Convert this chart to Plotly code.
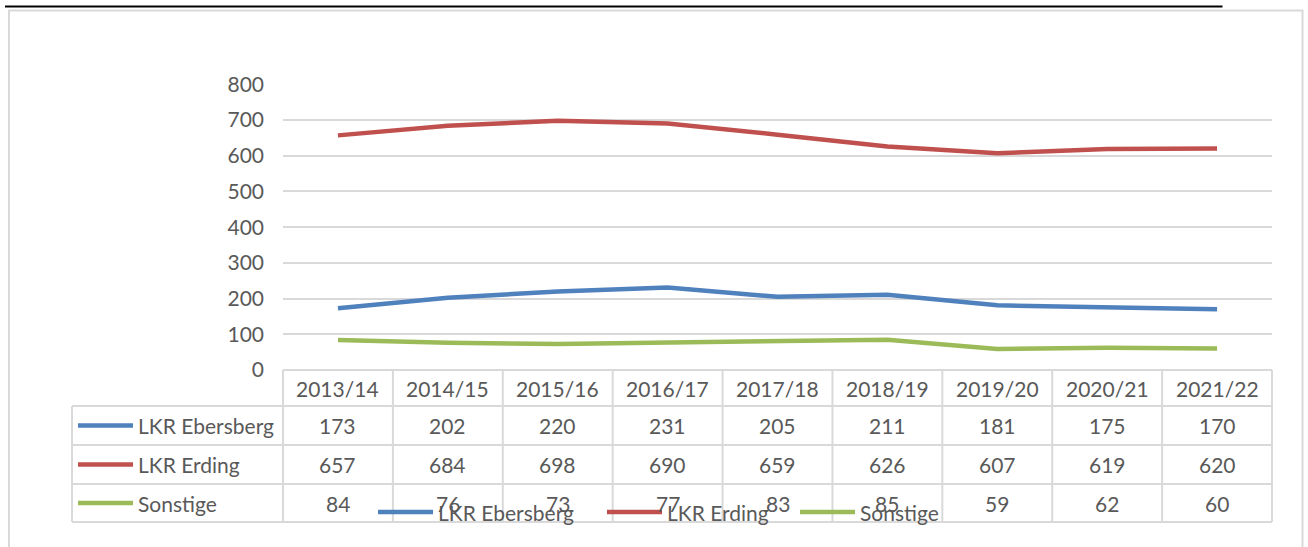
import plotly.graph_objects as go

# ---- data ----
categories = ["2013/14", "2014/15", "2015/16", "2016/17", "2017/18",
              "2018/19", "2019/20", "2020/21", "2021/22"]
series_names = ["LKR Ebersberg", "LKR Erding", "Sonstige"]
ebersberg = [173, 202, 220, 231, 205, 211, 181, 175, 170]
erding = [657, 684, 698, 690, 659, 626, 607, 619, 620]
sonstige = [84, 76, 73, 77, 83, 85, 59, 62, 60]
y_ticks = [0, 100, 200, 300, 400, 500, 600, 700, 800]

series_values = [ebersberg, erding, sonstige]
colors = ["#4F81BD", "#C0504D", "#9BBB59"]

# ---- layout geometry (pixels, page coordinates) ----
W, H = 1308, 547
OFF = 0                      # body margin is removed by post_script
PL, PR = 283, 1272          # plot area left/right
PT, PB = 84.3, 370          # plot area top (800) / bottom (0)
ROW_LINES = [406, 445, 484, 522]
TABLE_LEFT = 72
FONT = "Lato"
TXT = "#595959"
GRID = "#d9d9d9"
FS = 21


def px(x):
    return (x - OFF) / W


def py(y):
    return 1 - (y - OFF) / H


fig = go.Figure()
for name, vals, col in zip(series_names, series_values, colors):
    fig.add_trace(go.Scatter(x=categories, y=vals, name=name, mode="lines",
                             line=dict(color=col, width=4.5),
                             hoverinfo="x+y+name"))

shapes = []
annotations = []

# top black rule and chart border
shapes.append(dict(type="line", xref="paper", yref="paper",
                   x0=px(5), x1=px(1222.5), y0=py(6.5), y1=py(6.5),
                   line=dict(color="black", width=2)))
shapes.append(dict(type="rect", xref="paper", yref="paper",
                   x0=px(9), x1=px(1302.5), y0=py(10.5), y1=py(600),
                   line=dict(color=GRID, width=2)))

# data table grid
ncat = len(categories)
cw = (PR - PL) / ncat
shapes.append(dict(type="line", xref="paper", yref="paper",
                   x0=px(PL), x1=px(PR), y0=py(PB), y1=py(PB),
                   line=dict(color=GRID, width=2)))
for yl in ROW_LINES:
    shapes.append(dict(type="line", xref="paper", yref="paper",
                       x0=px(TABLE_LEFT), x1=px(PR), y0=py(yl), y1=py(yl),
                       line=dict(color=GRID, width=2)))
shapes.append(dict(type="line", xref="paper", yref="paper",
                   x0=px(TABLE_LEFT), x1=px(TABLE_LEFT),
                   y0=py(ROW_LINES[0]), y1=py(ROW_LINES[-1]),
                   line=dict(color=GRID, width=2)))
for k in range(ncat + 1):
    xv = PL + k * cw
    shapes.append(dict(type="line", xref="paper", yref="paper",
                       x0=px(xv), x1=px(xv), y0=py(PB), y1=py(ROW_LINES[-1]),
                       line=dict(color=GRID, width=2)))

# header labels
for c in categories:
    annotations.append(dict(x=c, xref="x", y=py((PB + ROW_LINES[0]) / 2),
                            yref="paper", text=c, showarrow=False,
                            xanchor="center", yanchor="middle",
                            font=dict(family=FONT, size=FS, color=TXT)))

# rows
for r, (name, vals, col) in enumerate(zip(series_names, series_values, colors)):
    yc = (ROW_LINES[r] + ROW_LINES[r + 1]) / 2
    shapes.append(dict(type="line", xref="paper", yref="paper",
                       x0=px(78), x1=px(133), y0=py(yc), y1=py(yc),
                       line=dict(color=col, width=4.5)))
    annotations.append(dict(x=px(136), xref="paper", y=py(yc), yref="paper",
                            text=name, showarrow=False, xanchor="left",
                            yanchor="middle",
                            font=dict(family=FONT, size=FS, color=TXT)))
    for c, v in zip(categories, vals):
        annotations.append(dict(x=c, xref="x", y=py(yc), yref="paper",
                                text=str(v), showarrow=False,
                                xanchor="center", yanchor="middle",
                                font=dict(family=FONT, size=FS, color=TXT)))

# bottom legend (overlapping the table, as in the original)
LEG_Y = 512
leg_starts = [378, 607, 800]
for name, col, x0 in zip(series_names, colors, leg_starts):
    shapes.append(dict(type="line", xref="paper", yref="paper",
                       x0=px(x0), x1=px(x0 + 55), y0=py(LEG_Y), y1=py(LEG_Y),
                       line=dict(color=col, width=4.5)))
    annotations.append(dict(x=px(x0 + 58), xref="paper", y=py(LEG_Y),
                            yref="paper", text=name, showarrow=False,
                            xanchor="left", yanchor="middle",
                            font=dict(family=FONT, size=FS, color=TXT)))

fig.update_layout(
    width=W, height=H,
    margin=dict(l=0, r=0, t=0, b=0, pad=0, autoexpand=False),
    paper_bgcolor="white", plot_bgcolor="white",
    showlegend=False,
    shapes=shapes,
    annotations=annotations,
    font=dict(family=FONT, size=FS, color=TXT),
    xaxis=dict(domain=[px(PL), px(PR)], range=[-0.5, ncat - 0.5],
               type="category", showticklabels=False, showgrid=False,
               zeroline=False, showline=False, fixedrange=True,
               automargin=False),
    yaxis=dict(domain=[py(PB), py(PT)], range=[0, 800],
               tickvals=y_ticks, ticktext=[str(t) for t in y_ticks],
               showgrid=True, gridcolor=GRID, gridwidth=2,
               zeroline=False, showline=False,
               ticks="", ticklabelstandoff=18, automargin=False,
               tickfont=dict(family=FONT, size=FS, color=TXT),
               fixedrange=True),
)

fig.write_html("out.html",
               config={"displayModeBar": False},
               post_script="document.body.style.margin='0';"
                           "document.body.style.overflow='hidden';")
